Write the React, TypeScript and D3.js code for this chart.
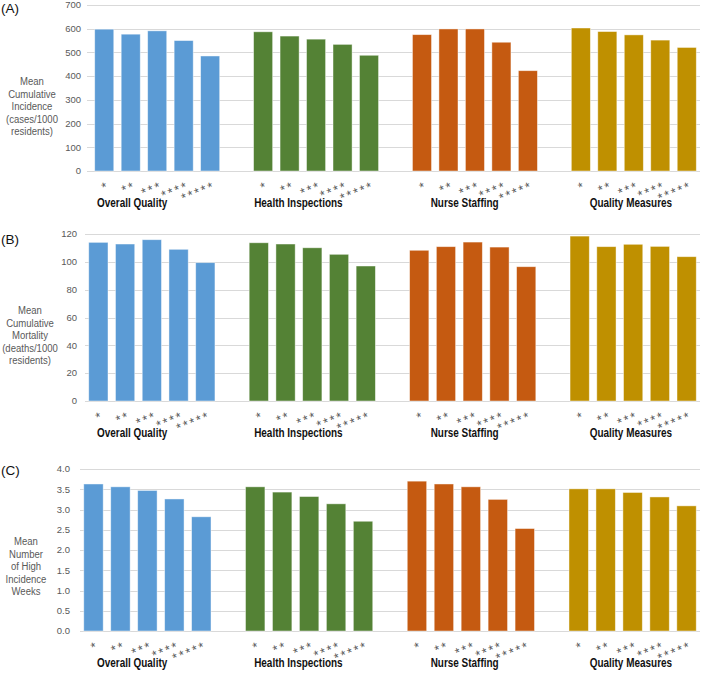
import React from 'react';
import * as d3 from 'd3';

// categories
const groups = ['Overall Quality', 'Health Inspections', 'Nurse Staffing', 'Quality Measures'];
const ratings = ['*', '**', '***', '****', '*****'];
const colors = ['#5B9BD5', '#548235', '#C55A11', '#BF9000'];

// (A) mean cumulative incidence
const incidenceOverall = [598, 577, 591, 550, 485];
const incidenceHealth = [587, 569, 556, 534, 488];
const incidenceNurse = [575, 599, 599, 543, 423];
const incidenceQuality = [603, 588, 574, 552, 521];

// (B) mean cumulative mortality
const mortalityOverall = [114.0, 112.8, 115.9, 109.0, 99.4];
const mortalityHealth = [113.7, 112.8, 110.1, 105.4, 97.0];
const mortalityNurse = [108.3, 110.9, 114.2, 110.6, 96.5];
const mortalityQuality = [118.5, 110.9, 112.6, 111.1, 103.7];

// (C) mean number of high incidence weeks
const weeksOverall = [3.63, 3.56, 3.47, 3.26, 2.82];
const weeksHealth = [3.56, 3.43, 3.32, 3.14, 2.71];
const weeksNurse = [3.70, 3.63, 3.56, 3.25, 2.53];
const weeksQuality = [3.51, 3.51, 3.42, 3.31, 3.09];

// y ticks
const incidenceTicks = [0, 100, 200, 300, 400, 500, 600, 700];
const mortalityTicks = [0, 20, 40, 60, 80, 100, 120];
const weeksTicks = [0, 0.5, 1, 1.5, 2, 2.5, 3, 3.5, 4];

const W = 709;
const H = 673;
const SANS = "'Liberation Sans', Arial, sans-serif";
const GREY = '#595959';
// no narrow font installed, so squeeze Liberation Sans a bit to get the Calibri look
const SQUEEZE = 0.83;

// slots: 5 bars per group + one blank slot between groups
const slots: string[] = [];
groups.forEach((g, gi) => {
  ratings.forEach((r, ri) => slots.push(`${gi}-${ri}`));
  if (gi < groups.length - 1) slots.push(`gap${gi}`);
});

const panels = [
  {
    letter: '(A)', letterY: 13,
    series: [incidenceOverall, incidenceHealth, incidenceNurse, incidenceQuality],
    ticks: incidenceTicks, fmt: d3.format('d'),
    title: ['Mean', 'Cumulative', 'Incidence', '(cases/1000', 'residents)'],
    titleX: 32, titleY: 85,
    top: 5, bottom: 171, left: 91, gridLeft: 87, tickX: 81,
  },
  {
    letter: '(B)', letterY: 244,
    series: [mortalityOverall, mortalityHealth, mortalityNurse, mortalityQuality],
    ticks: mortalityTicks, fmt: d3.format('d'),
    title: ['Mean', 'Cumulative', 'Mortality', '(deaths/1000', 'residents)'],
    titleX: 30, titleY: 314,
    top: 234, bottom: 401, left: 85, gridLeft: 85, tickX: 77,
  },
  {
    letter: '(C)', letterY: 475,
    series: [weeksOverall, weeksHealth, weeksNurse, weeksQuality],
    ticks: weeksTicks, fmt: d3.format('.1f'),
    title: ['Mean', 'Number', 'of High', 'Incidence', 'Weeks'],
    titleX: 26, titleY: 545,
    top: 469, bottom: 631, left: 80, gridLeft: 80, tickX: 70,
  },
];

const right = 700;
const groupLabelX = d3.scaleBand<string>().domain(groups).range([49, 714]);

const Panel = ({ p }: { p: (typeof panels)[number] }) => {
  const x = d3.scaleBand<string>()
    .domain(slots)
    .range([p.left, right])
    .paddingInner(0.28)
    .paddingOuter(0.14);
  const y = d3.scaleLinear()
    .domain([0, d3.max(p.ticks) as number])
    .range([p.bottom, p.top]);
  const bw = x.bandwidth();

  return (
    <g>
      <text x={1} y={p.letterY} fontFamily={SANS} fontSize={13.5} fill="#111">{p.letter}</text>

      {p.title.map((line, i) => (
        <text key={line} transform={`translate(${p.titleX},${p.titleY + i * 12.5}) scale(${SQUEEZE},1)`}
          textAnchor="middle" fontFamily={SANS} fontSize={11.5} fill={GREY}>{line}</text>
      ))}

      {/* grid + ticks */}
      {p.ticks.map(t => (
        <g key={t}>
          <line x1={p.gridLeft} x2={right} y1={Math.round(y(t)) + 0.5} y2={Math.round(y(t)) + 0.5}
            stroke="#D9D9D9" strokeWidth={1} />
          <text x={p.tickX} y={y(t)} dy="0.35em" textAnchor="end"
            fontFamily={SANS} fontSize={9.5} fill={GREY}>{p.fmt(t)}</text>
        </g>
      ))}

      {/* bars */}
      {p.series.map((vals, gi) => vals.map((v, ri) => (
        <rect key={`${gi}-${ri}`} x={x(`${gi}-${ri}`)} y={y(v)} width={bw} height={y(0) - y(v)}
          fill={colors[gi]} stroke="rgba(255,255,255,0.55)" strokeWidth={0.8} />
      )))}

      {/* rotated star labels */}
      {groups.map((g, gi) => ratings.map((r, ri) => {
        const cx = (x(`${gi}-${ri}`) as number) + bw / 2 + 3;
        return (
          <text key={`${gi}-${ri}`} transform={`translate(${cx},${p.bottom + 11}) rotate(-22)`}
            textAnchor="end" dy="0.62em" fontFamily={SANS} fontSize={13} letterSpacing={2}
            fill={GREY}>{r}</text>
        );
      }))}

      {/* group labels */}
      {groups.map(g => (
        <text key={g}
          transform={`translate(${(groupLabelX(g) as number) + groupLabelX.bandwidth() / 2},${p.bottom + 36}) scale(${SQUEEZE},1)`}
          textAnchor="middle" fontFamily={SANS} fontWeight="bold" fontSize={12} fill="#111">{g}</text>
      ))}
    </g>
  );
};

export default function App() {
  return (
    <svg width={W} height={H} style={{ position: 'absolute', left: 0, top: 0, background: '#fff' }}>
      <rect width={W} height={H} fill="#fff" />
      {panels.map(p => <Panel key={p.letter} p={p} />)}
    </svg>
  );
}
